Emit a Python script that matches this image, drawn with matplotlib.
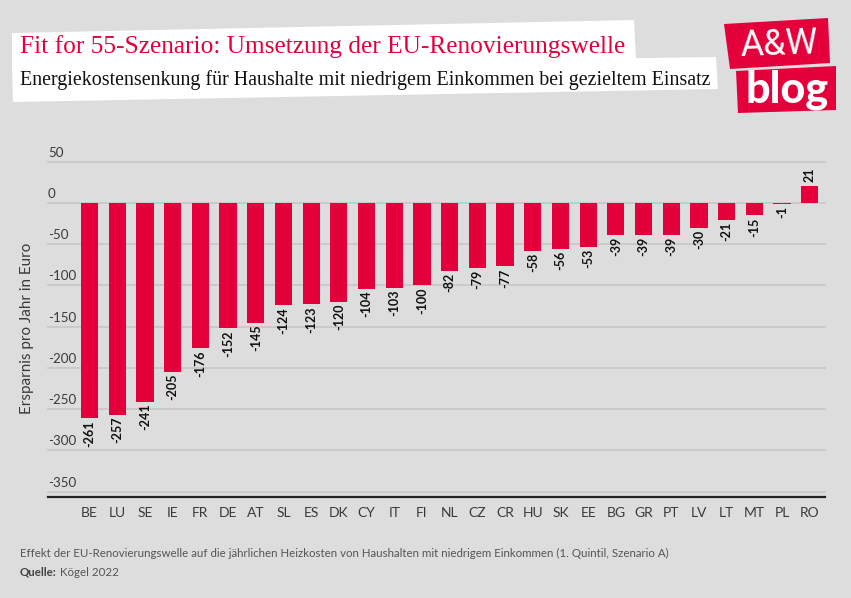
import matplotlib
matplotlib.use("Agg")
import matplotlib.pyplot as plt
from matplotlib.patches import Polygon

countries = ["BE","LU","SE","IE","FR","DE","AT","SL","ES","DK","CY","IT","FI","NL","CZ","CR","HU","SK","EE","BG","GR","PT","LV","LT","MT","PL","RO"]
savings = [-261,-257,-241,-205,-176,-152,-145,-124,-123,-120,-104,-103,-100,-82,-79,-77,-58,-56,-53,-39,-39,-39,-30,-21,-15,-1,21]
y_ticks = [50,0,-50,-100,-150,-200,-250,-300,-350]

title = "Fit for 55-Szenario: Umsetzung der EU-Renovierungswelle"
subtitle = "Energiekostensenkung für Haushalte mit niedrigem Einkommen bei gezieltem Einsatz"
ylabel = "Ersparnis pro Jahr in Euro"
note = "Effekt der EU-Renovierungswelle auf die jährlichen Heizkosten von Haushalten mit niedrigem Einkommen (1. Quintil, Szenario A)"

W, H = 851, 598
BG = "#DDDDDD"; RED = "#E4003A"; GRID = "#C8C8C8"; TXT = "#3A3A3A"
SANS = "Lato"
fig = plt.figure(figsize=(W/100, H/100), dpi=100, facecolor=BG)

# Plot area (pixel box converted to figure fractions)
L, R, T, B = 48, 825, 161.7, 497
ax = fig.add_axes([L/W, 1-B/H, (R-L)/W, (B-T)/H], facecolor="none")
x = list(range(len(countries)))
ax.set_xlim(-1.5, 26.55)
ax.set_ylim(-356.6, 50)
ax.bar(x, savings, width=0.62, color=RED, zorder=3)
for v in y_ticks:
    ax.axhline(v, color=GRID, lw=1.3, zorder=1, clip_on=False)
    ax.annotate(str(v), (0, v), xycoords=("axes fraction", "data"), xytext=(0, 3),
                textcoords="offset pixels", ha="left", va="bottom", fontsize=9.6,
                color=TXT, family=SANS)
for i, v in zip(x, savings):
    ax.annotate(str(v), (i, v), xytext=(0, 4 if v > 0 else -2), textcoords="offset pixels",
                rotation=90, ha="center", va="bottom" if v > 0 else "top",
                fontsize=9, fontweight="bold", color="#111111", family=SANS, zorder=4)
for s in ["top", "left", "right"]:
    ax.spines[s].set_visible(False)
ax.spines["bottom"].set_color("#222222")
ax.spines["bottom"].set_linewidth(1.6)
ax.set_yticks([])
ax.set_xticks(x, countries)
ax.tick_params(axis="x", length=0, pad=7, labelsize=10, labelcolor=TXT)
for t in ax.get_xticklabels():
    t.set_family(SANS)
fig.text(27/W, 1-328/H, ylabel, rotation=90, ha="center", va="center", fontsize=10.9,
         color=TXT, family=SANS)

# Header overlay in pixel coordinates
ov = fig.add_axes([0, 0, 1, 1], facecolor="none")
ov.set_xlim(0, W); ov.set_ylim(H, 0); ov.axis("off")
ov.add_patch(Polygon([(12,33),(634,20),(636,60),(12,70)], color="white", lw=0))
ov.add_patch(Polygon([(12,67),(716,57),(718,89),(13,102)], color="white", lw=0))
ov.text(20, 47, title, fontsize=18.25, color=RED, family="Liberation Serif", va="center", ha="left")
ov.text(20, 80, subtitle, fontsize=14.36, color="#111111", family="Liberation Serif", va="center", ha="left")
ov.add_patch(Polygon([(724,24),(828,18),(830,63),(730,69)], color=RED, lw=0))
ov.add_patch(Polygon([(736,71),(836,66),(836,110),(738,113)], color=RED, lw=0))
ov.text(779, 45, "A&W", fontsize=26, color="white", family="Roboto", ha="center", va="center", rotation=2)
ov.text(787, 90, "blog", fontsize=31, color="white", family=SANS, fontweight="black", ha="center", va="center")

# Footer
ov.text(20, 553, note, fontsize=8.3, color="#555555", family=SANS, va="center", ha="left")
ov.text(20, 572, "Quelle:", fontsize=8.3, color="#444444", family=SANS, fontweight="bold", va="center", ha="left")
ov.text(60, 572, "Kögel 2022", fontsize=8.3, color="#555555", family=SANS, va="center", ha="left")

fig.savefig("out.png", dpi=100, facecolor=BG)
